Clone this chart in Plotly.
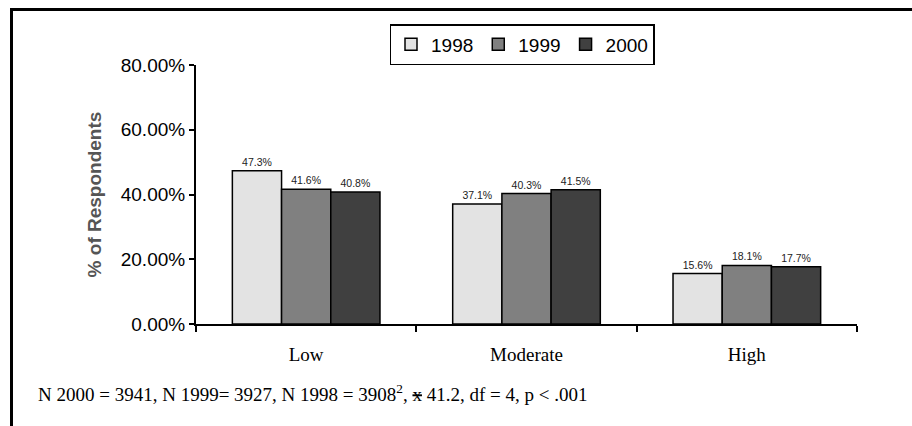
import plotly.graph_objects as go

# --- data ---
categories = ["Low", "Moderate", "High"]
years = ["1998", "1999", "2000"]
pct_1998 = [47.3, 37.1, 15.6]
pct_1999 = [41.6, 40.3, 18.1]
pct_2000 = [40.8, 41.5, 17.7]
y_ticks = [0, 20, 40, 60, 80]
y_tick_labels = ["0.00%", "20.00%", "40.00%", "60.00%", "80.00%"]
footnote = ("N 2000 = 3941, N 1999= 3927, N 1998 = 3908<sup>2</sup>, "
            "<s>x</s> 41.2, df = 4, p < .001")

colors = ["#e3e3e3", "#808080", "#404040"]

# --- layout geometry (pixels) ---
W, H = 912, 426
L, R, T, B = 196, 55, 65, 102
pw, ph = W - L - R, H - T - B


def px_x(x):
    return (x - L) / pw


def px_y(y):
    return (H - B - y) / ph


fig = go.Figure()
for name, vals, col in zip(years, [pct_1998, pct_1999, pct_2000], colors):
    fig.add_trace(go.Bar(
        x=categories, y=vals, name=name,
        marker=dict(color=col, line=dict(color="black", width=1.5)),
        texttemplate="%{y:.1f}%", textposition="outside",
        textfont=dict(family="Liberation Sans", size=10.5, color="#222"),
        cliponaxis=False,
    ))

fig.update_layout(
    width=W, height=H,
    margin=dict(l=L, r=R, t=T, b=B),
    paper_bgcolor="white", plot_bgcolor="white",
    barmode="group", bargap=0.33, bargroupgap=0,
    font=dict(family="Liberation Sans", color="black"),
    showlegend=True,
    legend=dict(
        orientation="h", x=px_x(522), xanchor="center",
        y=px_y(24), yanchor="top",
        bordercolor="black", borderwidth=1.5, bgcolor="white",
        font=dict(family="Liberation Sans", size=19),
        itemwidth=30, traceorder="normal",
    ),
    xaxis=dict(
        showline=True, linecolor="black", linewidth=2,
        ticks="outside", tickson="boundaries", ticklen=6,
        tickwidth=2, tickcolor="black",
        tickfont=dict(family="Liberation Serif", size=19),
        ticklabelstandoff=12,
        showgrid=False, zeroline=False,
    ),
    yaxis=dict(
        range=[0, 80], tickvals=y_ticks, ticktext=y_tick_labels,
        showline=True, linecolor="black", linewidth=2,
        ticks="outside", ticklen=5, tickwidth=2, tickcolor="black",
        tickfont=dict(family="Liberation Sans", size=19),
        showgrid=False, zeroline=False,
        title=dict(text="<b>% of Respondents</b>", standoff=14,
                   font=dict(family="Liberation Sans", size=19, color="#555")),
    ),
    annotations=[dict(
        text=footnote, xref="paper", yref="paper",
        x=px_x(36), y=px_y(393), xanchor="left", yanchor="middle",
        showarrow=False, font=dict(family="Liberation Serif", size=19),
    )],
    shapes=[
        dict(type="line", xref="paper", yref="paper",
             x0=px_x(10), x1=px_x(912), y0=px_y(9.5), y1=px_y(9.5),
             line=dict(color="black", width=3)),
        dict(type="line", xref="paper", yref="paper",
             x0=px_x(11.5), x1=px_x(11.5), y0=px_y(8), y1=px_y(426),
             line=dict(color="black", width=3)),
    ],
)

fig.write_html("out.html", config={"displayModeBar": False},
               post_script="document.body.style.margin='0px';")
